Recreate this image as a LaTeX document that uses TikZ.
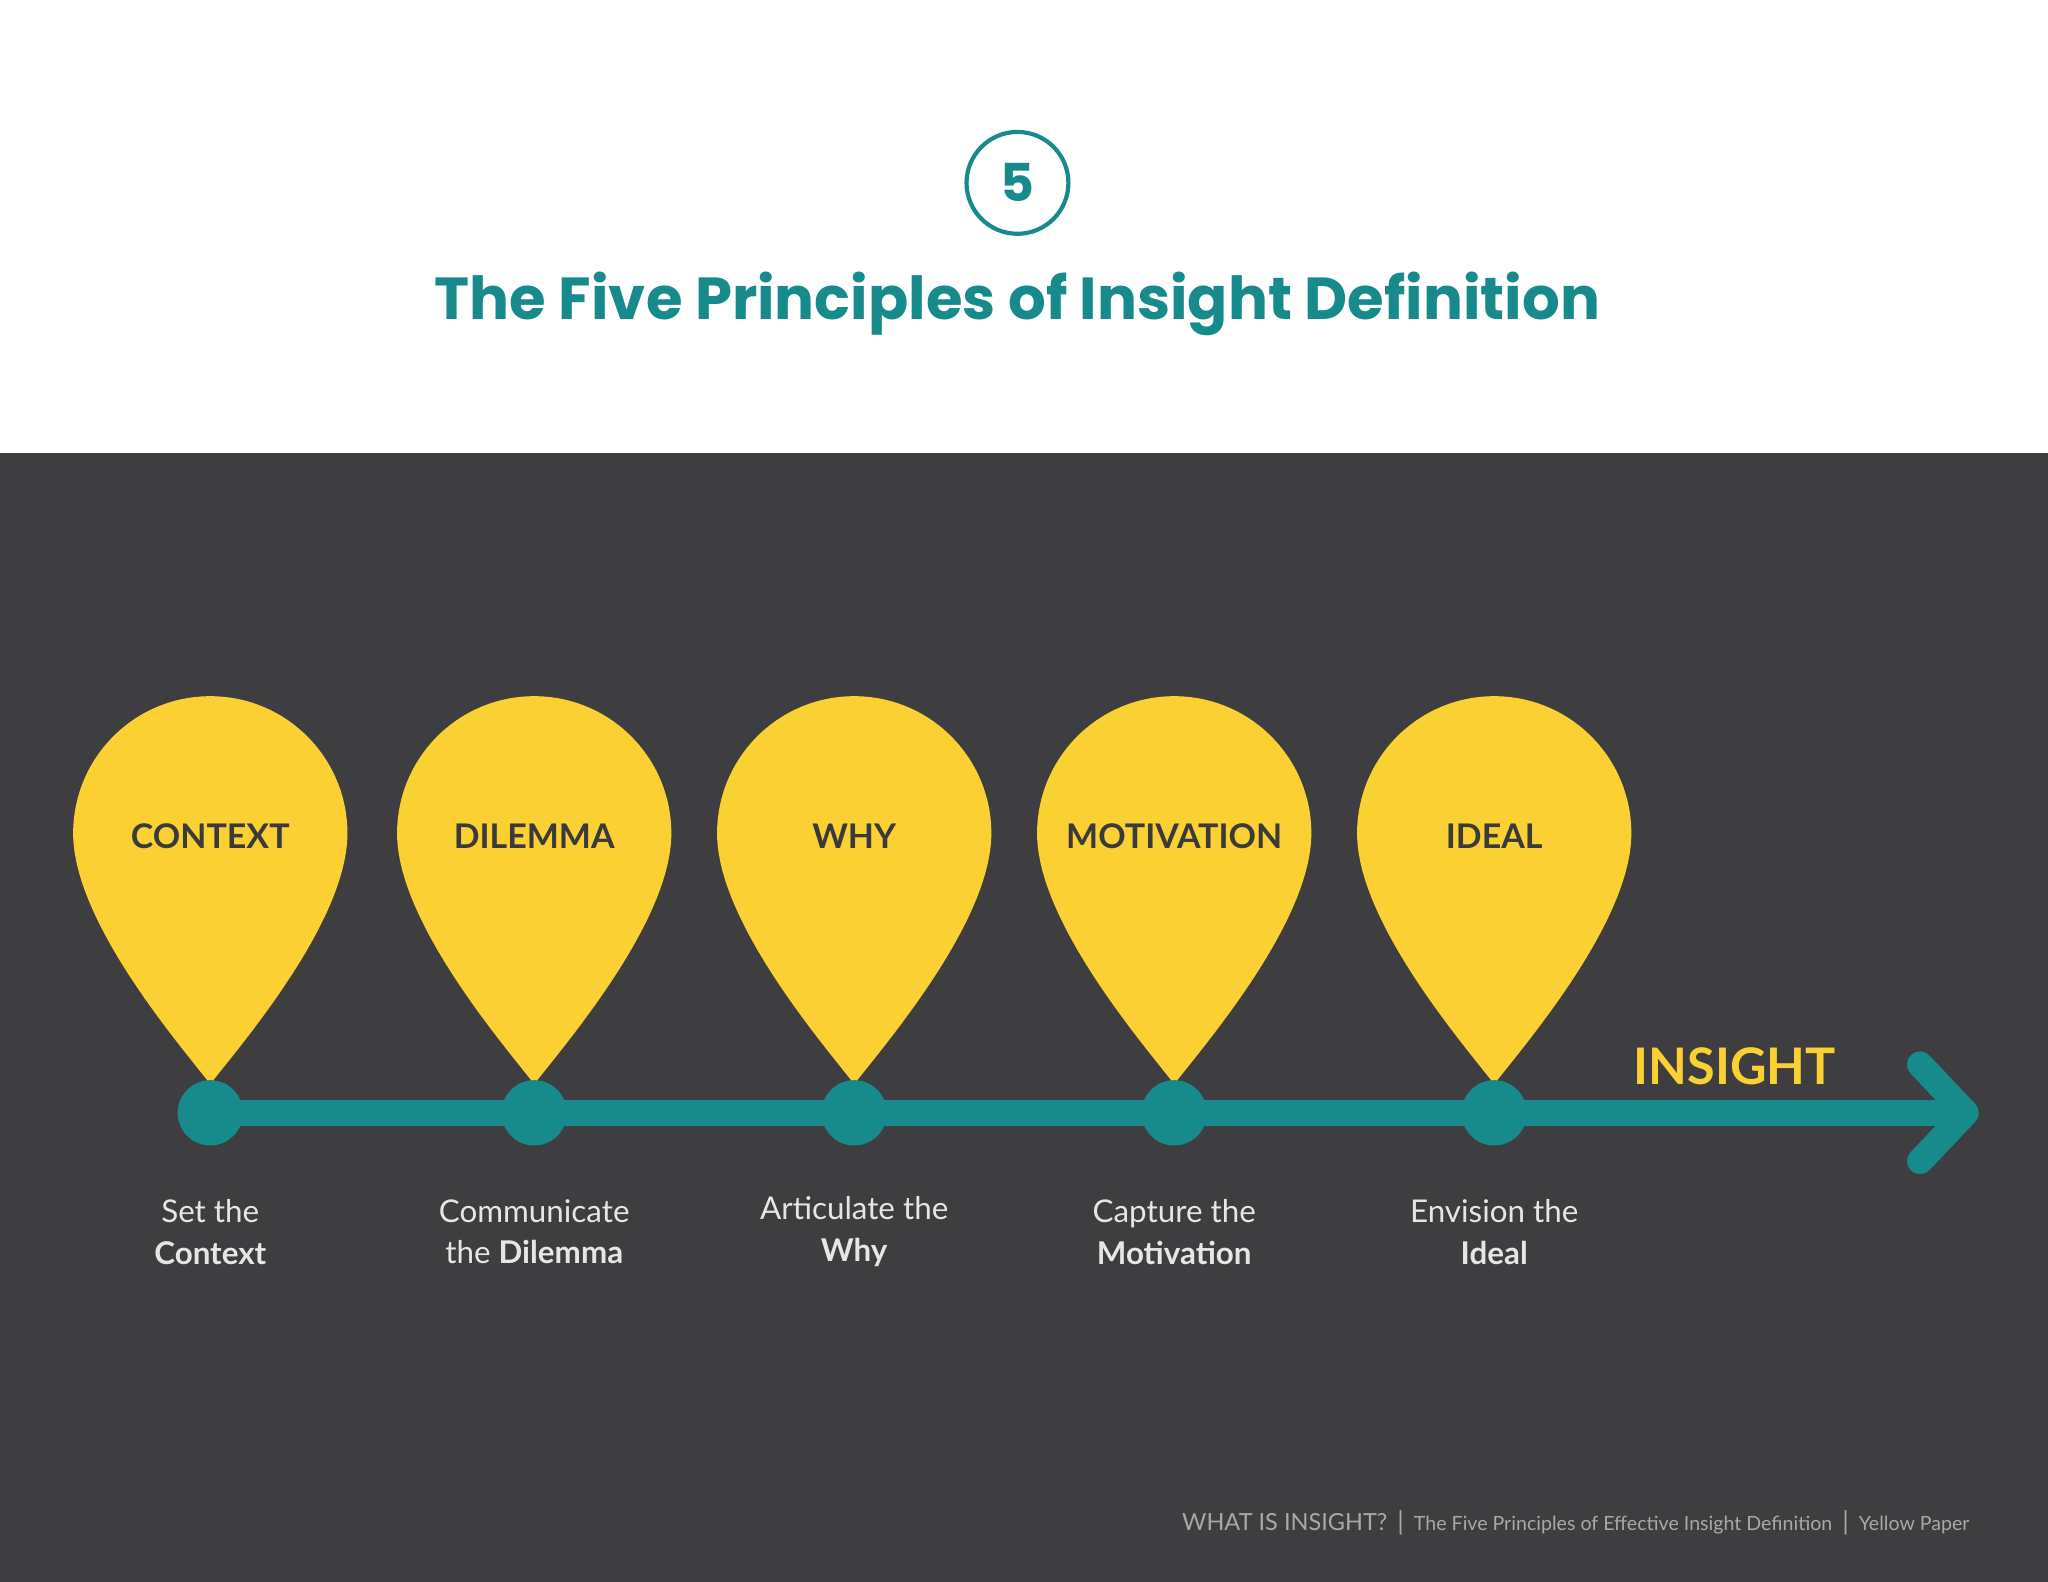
\documentclass[tikz,border=0pt]{standalone}
\usepackage{fontspec}
\setmainfont{Lato}
\newfontfamily\pop{Poppins}
\definecolor{bgdark}{HTML}{3E3D3F}
\definecolor{pinyel}{HTML}{FBD033}
\definecolor{teal5}{HTML}{178A8C}
\definecolor{pintext}{HTML}{3A3A3A}
\definecolor{subtext}{HTML}{E6E6E6}
\definecolor{foot}{HTML}{A8A8A8}
\tikzset{
 pinlabel/.style={text=pintext,font=\bfseries\fontsize{13}{13}\selectfont},
 sublabel/.style={text=subtext,align=center,font=\fontsize{12}{16}\selectfont},
 dot/.style={circle,fill=teal5,minimum size=25pt,inner sep=0pt},
}
\newcommand{\mypin}[4]{%
 \fill[pinyel] (#1,830) .. controls (#1-25,798) and (#1-105,705) .. (#1-105,638)
   arc(180:360:105) .. controls (#1+105,705) and (#1+25,798) .. (#1,830) -- cycle;
 \node[pinlabel] (#2) at (#1,640) {#3};
 \node[dot] (d#2) at (#1,852) {};
 \node[sublabel] (s#2) at (#1,943) {#4};
}
\begin{document}
\begin{tikzpicture}[x=0.5pt,y=-0.5pt]
\useasboundingbox (0,0) rectangle (1568,1211);
\fill[white] (0,0) rectangle (1568,347);
\fill[bgdark] (0,347) rectangle (1568,1211);
\node[circle,draw=teal5,line width=1.6pt,minimum size=39pt,inner sep=0pt,text=teal5,font=\pop\bfseries\fontsize{20}{20}\selectfont] (num) at (779,140) {5};
\node[text=teal5,font=\pop\bfseries\fontsize{22.7}{23}\selectfont] (title) at (779,233) {The Five Principles of Insight Definition};
\coordinate (lstart) at (161,852);
\coordinate (lend) at (1505,852);
\draw[teal5,line width=10pt] (lstart) -- (lend);
\draw[teal5,line width=10pt,line cap=round,line join=round] (1470,815) -- (lend) -- (1470,889);
\mypin{161}{ctx}{CONTEXT}{Set the\\\textbf{Context}}
\mypin{409}{dil}{DILEMMA}{Communicate\\the \textbf{Dilemma}}
\mypin{654}{why}{WHY}{Articulate the\\\textbf{Why}}
\mypin{899}{mot}{MOTIVATION}{Capture the\\\textbf{Motivation}}
\mypin{1144}{ide}{IDEAL}{Envision the\\\textbf{Ideal}}
\node[text=pinyel,font=\bfseries\fontsize{19.3}{20}\selectfont] (ins) at (1328,816) {INSIGHT};
\node[anchor=east,text=foot,font=\fontsize{7.5}{8}\selectfont] (ft) at (1515,1166) {{\fontsize{9}{9}\selectfont WHAT IS INSIGHT?}\ \ {\fontsize{10}{10}\selectfont|}\ \ The Five Principles of Effective Insight Definition\ \ {\fontsize{10}{10}\selectfont|}\ \ Yellow Paper};
\end{tikzpicture}
\end{document}
